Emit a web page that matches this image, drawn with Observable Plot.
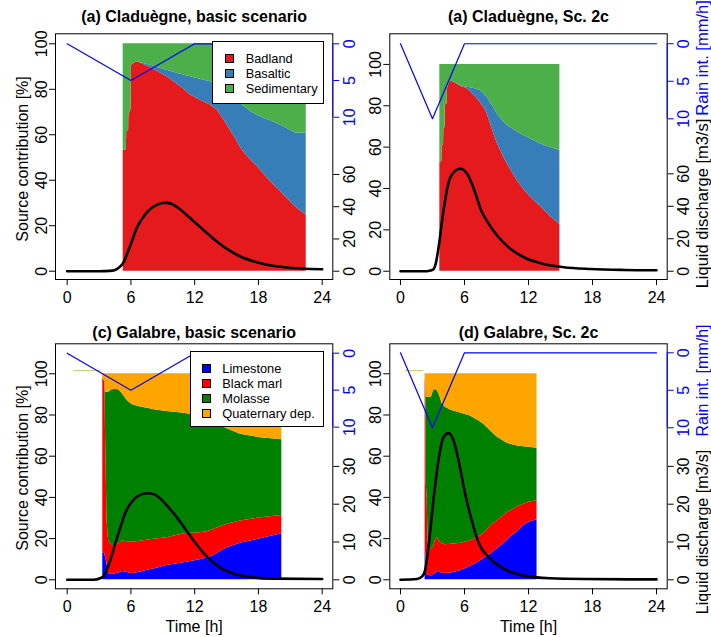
<!DOCTYPE html>
<html><head><meta charset="utf-8">
<script src="https://cdn.jsdelivr.net/npm/d3@7"></script>
<script src="https://cdn.jsdelivr.net/npm/@observablehq/plot@0.6"></script>
<style>
body{margin:0;background:#fff;}
#fig{position:relative;width:711px;height:637px;background:#fff;overflow:hidden;font-family:"Liberation Sans",Arial,Helvetica,sans-serif;}
.panel{position:absolute;}
.legend{position:absolute;border:1px solid #000;background:#fff;box-sizing:border-box;font-size:12.8px;color:#000;}
.legend .row{position:absolute;left:0;height:15px;line-height:15px;white-space:nowrap;}
.legend .sw{position:absolute;top:3px;width:9px;height:9px;border:1px solid #000;box-sizing:border-box;}
.legend .lab{position:absolute;top:0;}
</style></head>
<body><div id="fig"></div>
<script>
// ---------- categories / ticks ----------
const cladSources = ["Badland", "Basaltic", "Sedimentary"];
const cladColors = ["#E41A1C", "#377EB8", "#4DAF4A"];
const galSources = ["Limestone", "Black marl", "Molasse", "Quaternary dep."];
const galColors = ["#0000FF", "#FF0000", "#008000", "#FFA500"];
const timeTicks = [0, 6, 12, 18, 24];
const contribTicks = [0, 20, 40, 60, 80, 100];
const rainTicks = [0, 5, 10];
const cladQTicks = [0, 20, 40, 60];
const galQTicks = [0, 10, 20, 30];

// ---------- (a) Claduègne, basic scenario ----------
const cladBasicTime = [5.27,5.57,5.6,5.78,5.8,5.98,6.02,6.05,6.3,6.6,6.9,7.8,9.4,11.0,11.6,12.5,13.5,14.1,14.76,15.7,16.3,16.6,17.25,17.9,18.5,19.14,19.4,20.4,21.0,21.5,22.5];
const cladBasicBadland = [53.2,53.4,61.2,62,68.6,70.8,71,90.6,91.5,92.1,91.6,89.6,85.5,80,77.5,75.3,73,71,66.5,59.5,54.5,52.5,49,46,42.8,39.5,38.2,33.5,30.6,28.2,24.6];
const cladBasicBasaltic = [0,0,0,0,0,0,0,0,0,0,0.2,1.0,2.9,6.2,8.0,9.1,10.3,11.5,14.5,18,19.2,20.1,21.3,22.6,24.5,26.7,27.4,30,31.4,32.6,36.2];
const cladBasicSedimentary = [46.8,46.6,38.8,38,31.4,29.2,29,9.4,8.5,7.9,8.2,9.4,11.6,13.8,14.5,15.6,16.7,17.5,19,22.5,26.3,27.4,29.7,31.4,32.7,33.8,34.4,36.5,38,39.2,39.2];
const cladBasicQTime = [0,3,4,4.5,5,5.3,5.65,6,6.3,6.6,7,7.5,8,8.5,9,9.4,9.8,10.4,11.3,12.5,13.8,15,16.3,17.6,18.8,20.4,22,24];
const cladBasicQ = [0,0,0.2,0.8,3,5.5,11,17,22.5,27.5,32,36.5,39.5,41.3,42.3,42.4,41.8,39.5,34.6,27.5,20,14,9.1,6,4,2.5,1.7,1.2];
const cladBasicRainTime = [0, 6, 12, 24];
const cladBasicRain = [0, 5, 0, 0];

// ---------- (b) Claduègne, Sc. 2c ----------
const cladSc2cTime = [3.69,3.88,3.9,4.04,4.06,4.18,4.2,4.38,4.4,4.6,4.78,5.15,5.63,6.25,6.56,7.0,7.5,7.8,8.1,8.75,9.06,9.7,10.0,10.94,11.56,12.5,13.1,14.06,14.94];
const cladSc2cBadland = [52.7,53,60.8,61,68.9,69.5,80.2,81,88.2,91.4,91.8,91,89.4,88.2,86.8,84.5,81.5,79.4,76.5,66.5,62,55,52,43.9,39.5,34.2,31.5,26.5,22.6];
const cladSc2cBasaltic = [0,0,0,0,0,0,0,0,0,0,0,0.2,0.4,0.8,1.9,3.7,5.9,6.6,7.7,12.5,14.1,17,18.5,23.6,26.1,29,30.1,33.3,35.8];
const cladSc2cSedimentary = [47.3,47,39.2,39,31.1,30.5,19.8,19,11.8,8.6,8.2,8.8,10.2,11,11.3,11.8,12.6,14,15.8,21,23.9,28,29.5,32.5,34.4,36.8,38.4,40.2,41.6];
const cladSc2cQTime = [0,2.5,2.8,3.1,3.3,3.6,3.9,4.06,4.5,5,5.6,6.25,6.87,7.2,7.5,8.1,9.06,10.3,11.56,13.4,15.3,17.8,20.9,24];
const cladSc2cQ = [0,0,0.4,1.2,4.5,16,31,38.4,54.5,61,63.1,60,50.8,44.5,38.4,31,22,13.8,8.6,4.5,2.5,1.4,0.8,0.6];
const cladSc2cRainTime = [0, 3, 6, 24];
const cladSc2cRain = [0, 10, 0, 0];

// ---------- (c) Galabre, basic scenario ----------
const galBasicTime = [3.35,3.55,3.6,3.75,3.9,4.2,4.5,4.85,5.2,5.65,6.1,6.7,7.8,8.15,9.4,11.0,12.5,13.2,13.8,15.06,16.3,18.2,20.2];
const galBasicLimestone = [13.4,12.6,11,7.8,2.9,2.6,2.8,3.3,4.0,3.5,2.9,3.5,4.9,5.3,7,8.3,9.7,10.6,11.8,15.5,17.8,19.9,22.3];
const galBasicBlackMarl = [84.6,83.4,63,21,16.1,14.1,13.7,14.2,15,15,15.3,15.1,14.5,14.4,13.4,14,13.1,12.7,12.7,11.5,10.7,10.2,8.9];
const galBasicMolasse = [0,0,17.1,62.2,72,75.5,75.9,74.7,71.3,68.5,66.9,65.5,63.6,62.8,61.3,58.5,56.7,54.9,52,46.3,42.1,38.9,36.8];
const galBasicQuaternary = [2,4,8.9,9,9,7.8,7.6,7.8,9.7,13,14.9,15.9,17,17.5,18.3,19.2,20.5,21.8,23.5,26.7,29.4,31,32];
const galBasicQTime = [0,2.5,3.1,3.45,3.76,4.2,4.6,5,5.5,6,6.4,7,7.6,8.2,8.8,9.4,10.1,10.7,11.3,11.9,12.5,13.2,14.4,15.7,17.25,19.4,24];
const galBasicQ = [0,0,0.4,1.1,2.9,6.4,10.3,13.8,17.9,20.3,21.6,22.6,22.9,22.6,21.4,19.6,17.3,15.1,12.7,10.4,8.2,6,3.2,1.6,0.7,0.3,0.2];
const galBasicRainTime = [0, 6, 12, 24];
const galBasicRain = [0, 5, 0, 0];
const galBasicRefTime = [0.6, 3.1];
const galBasicRef = [101.5, 101.5];

// ---------- (d) Galabre, Sc. 2c ----------
const galSc2cTime = [2.31,2.38,2.42,2.5,2.6,2.9,3.1,3.3,3.5,3.7,3.9,4.2,4.8,5.7,6.56,7.3,7.8,8.5,9.06,10.0,10.3,11.0,11.56,12.0,12.8];
const galSc2cLimestone = [13.4,13,3,2.5,2.2,1.8,2.5,3,4.2,3.7,3.2,3.0,3.3,4.5,6.5,8.5,10.2,12.6,15,19,20.7,23.5,26.4,27.8,29.1];
const galSc2cBlackMarl = [83.6,83,43.6,37.5,13.3,13.2,13.5,16.5,16.3,14.8,14.3,14,14,13.3,12.5,12.2,12.3,13.9,13.6,13.5,12.6,12.1,10.3,9.7,9.4];
const galSc2cMolasse = [0,0,42,48.6,73.1,73.6,75.9,72.9,71,70.5,67.9,66.8,64.9,63.1,60.5,56.6,53,45.5,40.7,33.8,32.5,29.3,27.9,26.9,25.4];
const galSc2cQuaternary = [3,4,11.4,11.4,11.4,11.4,8.1,7.6,8.5,11,14.6,16.2,17.8,19.1,20.5,22.7,24.5,28,30.7,33.7,34.2,35.1,35.4,35.6,36.1];
const galSc2cQTime = [0,1.56,2.03,2.31,2.62,3.09,3.56,4.03,4.5,4.97,5.44,6.06,6.7,7.3,8.44,9.7,11.56,14,17.2,24];
const galSc2cQ = [0,0.2,0.9,2.5,8.6,21,31.6,37.7,38.8,36.9,31.6,22.8,15.5,10,5.5,2.9,1.1,0.4,0.2,0.1];
const galSc2cRainTime = [0, 3, 6, 24];
const galSc2cRain = [0, 10, 0, 0];
const galSc2cRefTime = [0.47, 2.13];
const galSc2cRef = [101.5, 101.5];

// ---------- layout config ----------
const panels = [
  {title: "(a) Claduègne, basic scenario", left: 0, top: 0, width: 355, height: 310,
   m: {l: 55, r: 22.7, t: 33.3, b: 31}, xDomain: [-1.1, 25.0], yDomain: [-3.65, 104.4],
   qK: 0.709, rainZero: 100, rainK: 3.23, qTicks: cladQTicks, titleDy: -12.3,
   sources: cladSources, colors: cladColors, time: cladBasicTime,
   series: [cladBasicBadland, cladBasicBasaltic, cladBasicSedimentary],
   qTime: cladBasicQTime, q: cladBasicQ, rainTime: cladBasicRainTime, rain: cladBasicRain,
   leftLabel: true, leftDy: 2.3},
  {title: "(a) Claduègne, Sc. 2c", left: 355, top: 0, width: 356, height: 310,
   m: {l: 34.3, r: 44.3, t: 33.3, b: 31}, xDomain: [-1.0, 25.0], yDomain: [-4.0, 114.8],
   qK: 0.785, rainZero: 110, rainK: 3.63, qTicks: cladQTicks, titleDy: -12.3,
   sources: cladSources, colors: cladColors, time: cladSc2cTime,
   series: [cladSc2cBadland, cladSc2cBasaltic, cladSc2cSedimentary],
   qTime: cladSc2cQTime, q: cladSc2cQ, rainTime: cladSc2cRainTime, rain: cladSc2cRain,
   rightLabels: {dx: 40.6, qDy: 169.7, rDy: 24.2, size: 16.5}},
  {title: "(c) Galabre, basic scenario", left: 0, top: 310, width: 355, height: 327,
   m: {l: 55, r: 22.7, t: 33.3, b: 48.7}, xDomain: [-1.1, 25.0], yDomain: [-4.37, 114.56],
   qK: 1.835, rainZero: 110, rainK: 3.59, qTicks: galQTicks, titleDy: -6.3,
   sources: galSources, colors: galColors, time: galBasicTime,
   series: [galBasicLimestone, galBasicBlackMarl, galBasicMolasse, galBasicQuaternary],
   qTime: galBasicQTime, q: galBasicQ, rainTime: galBasicRainTime, rain: galBasicRain,
   refTime: galBasicRefTime, ref: galBasicRef, leftLabel: true, leftDy: 1.7, timeLabel: true},
  {title: "(d) Galabre, Sc. 2c", left: 355, top: 310, width: 356, height: 327,
   m: {l: 34.3, r: 44.3, t: 33.3, b: 48.7}, xDomain: [-1.0, 25.0], yDomain: [-4.37, 114.56],
   qK: 1.835, rainZero: 110.2, rainK: 3.64, qTicks: galQTicks, titleDy: -6.3,
   sources: galSources, colors: galColors, time: galSc2cTime,
   series: [galSc2cLimestone, galSc2cBlackMarl, galSc2cMolasse, galSc2cQuaternary],
   qTime: galSc2cQTime, q: galSc2cQ, rainTime: galSc2cRainTime, rain: galSc2cRain,
   refTime: galSc2cRefTime, ref: galSc2cRef, timeLabel: true,
   rightLabels: {dx: 40.6, qDy: 188.2, rDy: 36.7, size: 16}}
];

const fig = document.getElementById("fig");
const FONT = "'Liberation Sans', Arial, Helvetica, sans-serif";

for (const c of panels) {
  const area = c.series.flatMap((s, j) => c.time.map((t, i) => ({t, source: c.sources[j], value: s[i]})));
  const flow = c.qTime.map((t, i) => ({t, q: c.q[i]}));
  const rain = c.rainTime.map((t, i) => ({t, r: c.rain[i]}));
  const qy = v => v * c.qK;
  const ry = v => c.rainZero - v * c.rainK;
  const axisCommon = {tickSize: 6, tickRotate: -90, textAnchor: "middle", label: null};
  const marks = [
    Plot.areaY(area, {x: "t", y: "value", fill: "source", order: c.sources, curve: "linear"}),
  ];
  if (c.refTime) {
    marks.push(Plot.line(c.refTime.map((t, i) => ({t, v: c.ref[i]})),
      {x: "t", y: "v", stroke: "#BDBD4A", strokeWidth: 1, strokeDasharray: "1.5,1"}));
  }
  marks.push(
    Plot.line(rain, {x: "t", y: d => ry(d.r), stroke: "#0000FF", strokeWidth: 1.2}),
    Plot.line(flow, {x: "t", y: d => qy(d.q), stroke: "#000", strokeWidth: 2.6, curve: "monotone-x"}),
    Plot.frame({stroke: "#000", strokeWidth: 1}),
    Plot.ruleX([{x: c.xDomain[1], y1: ry(0), y2: ry(10)}], {x: "x", y1: "y1", y2: "y2", stroke: "#0000FF", strokeWidth: 1}),
    Plot.axisX({ticks: timeTicks, tickSize: 6, tickPadding: 6, label: null}),
    Plot.axisY({...axisCommon, ticks: contribTicks, anchor: "left", tickPadding: 2.5, lineAnchor: "bottom"}),
    Plot.axisY(c.qTicks.map(qy), {...axisCommon, anchor: "right", tickPadding: 4.5, lineAnchor: "top",
      tickFormat: d => String(Math.round(d / c.qK))}),
    Plot.axisY(rainTicks.map(ry), {...axisCommon, anchor: "right", tickPadding: 4.5, lineAnchor: "top",
      color: "#0000FF", tickFormat: d => String(Math.round((c.rainZero - d) / c.rainK))}),
    Plot.text([c.title], {text: d => d, frameAnchor: "top", dy: c.titleDy, lineAnchor: "bottom",
      textAnchor: "middle", fontWeight: "bold", fontSize: 16})
  );
  if (c.leftLabel) {
    marks.push(Plot.text(["Source contribution [%]"], {text: d => d, frameAnchor: "left", dx: -27.5, dy: c.leftDy,
      rotate: -90, textAnchor: "middle", lineAnchor: "bottom", fontSize: 16}));
  }
  if (c.timeLabel) {
    marks.push(Plot.text(["Time [h]"], {text: d => d, frameAnchor: "bottom", dy: 42.7,
      textAnchor: "middle", lineAnchor: "bottom", fontSize: 16}));
  }
  if (c.rightLabels) {
    const rl = c.rightLabels;
    marks.push(
      Plot.text(["Liquid discharge [m3/s]"], {text: d => d, frameAnchor: "top-right", dx: rl.dx, dy: rl.qDy,
        rotate: -90, textAnchor: "middle", lineAnchor: "bottom", fontSize: rl.size, fill: "#000"}),
      Plot.text(["Rain int. [mm/h]"], {text: d => d, frameAnchor: "top-right", dx: rl.dx, dy: rl.rDy,
        rotate: -90, textAnchor: "middle", lineAnchor: "bottom", fontSize: rl.size, fill: "#0000FF"})
    );
  }
  const svg = Plot.plot({
    width: c.width, height: c.height,
    marginLeft: c.m.l, marginRight: c.m.r, marginTop: c.m.t, marginBottom: c.m.b,
    x: {domain: c.xDomain},
    y: {domain: c.yDomain},
    color: {domain: c.sources, range: c.colors},
    style: {fontSize: "16px", fontFamily: FONT, background: "transparent", overflow: "visible", color: "#000"},
    marks
  });
  svg.classList.add("panel");
  svg.style.left = c.left + "px";
  svg.style.top = c.top + "px";
  svg.style.maxWidth = "none";
  fig.appendChild(svg);
}

// ---------- legends (HTML overlays) ----------
function legend(names, colors, box) {
  const div = document.createElement("div");
  div.className = "legend";
  Object.assign(div.style, {left: box.left + "px", top: box.top + "px", width: box.width + "px", height: box.height + "px"});
  names.forEach((n, i) => {
    const row = document.createElement("div");
    row.className = "row";
    row.style.top = (box.firstRow + i * box.rowStep - 7.5) + "px";
    const sw = document.createElement("div");
    sw.className = "sw";
    sw.style.left = box.swLeft + "px";
    sw.style.background = colors[i];
    const lab = document.createElement("div");
    lab.className = "lab";
    lab.style.left = box.textLeft + "px";
    lab.textContent = n;
    row.appendChild(sw); row.appendChild(lab);
    div.appendChild(row);
  });
  fig.appendChild(div);
}
legend(cladSources, cladColors, {left: 212.3, top: 41, width: 112, height: 63, firstRow: 16.2, rowStep: 15, swLeft: 11.5, textLeft: 32.4});
legend(galSources, galColors, {left: 190, top: 351, width: 133.5, height: 76, firstRow: 16.2, rowStep: 15, swLeft: 10.5, textLeft: 31.3});
</script></body></html>
